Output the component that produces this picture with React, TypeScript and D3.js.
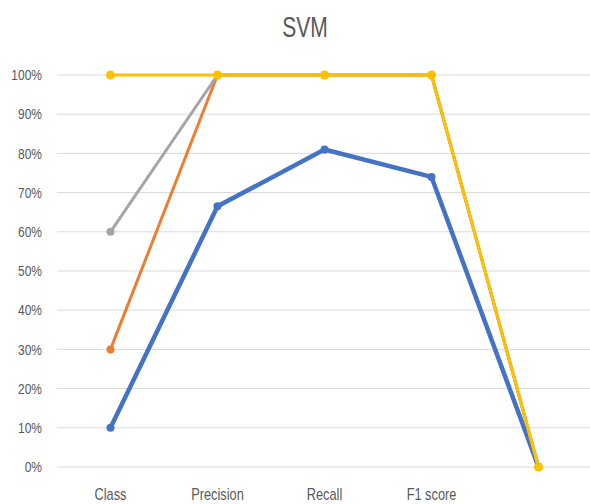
import React from "react";
import * as d3 from "d3";

const categories = ["Class", "Precision", "Recall", "F1 score", ""];
const yTicks = [0, 0.1, 0.2, 0.3, 0.4, 0.5, 0.6, 0.7, 0.8, 0.9, 1.0];
const blueValues = [0.10, 0.665, 0.81, 0.74, 0];
const orangeValues = [0.30, 1.0, 1.0, 1.0, 0];
const grayValues = [0.60, 1.0, 1.0, 1.0, 0];
const yellowValues = [1.0, 1.0, 1.0, 1.0, 0];

const seriesList = [
  { name: "blue", values: blueValues, color: "#4472C4", width: 4.5, r: 4 },
  { name: "orange", values: orangeValues, color: "#ED7D31", width: 3, r: 4 },
  { name: "gray", values: grayValues, color: "#A5A5A5", width: 3, r: 4 },
  { name: "yellow", values: yellowValues, color: "#FFC000", width: 3, r: 4.5 },
];

const W = 590;
const H = 504;
const FONT = "'Liberation Sans', Arial, sans-serif";

export default function App() {
  const x = d3.scaleBand<string>().domain(categories.map((c, i) => String(i))).range([57, 592]);
  const y = d3.scaleLinear().domain([0, 1]).range([467, 75]);
  const cx = (i: number) => (x(String(i)) as number) + x.bandwidth() / 2;
  const line = d3
    .line<number>()
    .x((_, i) => cx(i))
    .y((d) => y(d));

  return (
    <svg
      width={W}
      height={H}
      style={{ position: "absolute", left: 0, top: 0, background: "#fff" }}
    >
      <rect x={0} y={0} width={W} height={H} fill="#fff" />
      <text
        transform="translate(305,37) scale(0.7,1)"
        textAnchor="middle"
        fontFamily={FONT}
        fontSize={30}
        fill="#595959"
      >
        SVM
      </text>
      {yTicks.map((t) => (
        <g key={t}>
          <line x1={57} x2={592} y1={y(t)} y2={y(t)} stroke="#d9d9d9" strokeWidth={1} />
          <text
            transform={`translate(42,${y(t)}) scale(0.8,1)`}
            dy="0.35em"
            textAnchor="end"
            fontFamily={FONT}
            fontSize={15}
            fill="#595959"
          >
            {d3.format(".0%")(t)}
          </text>
        </g>
      ))}
      {categories.map((c, i) => (
        <text
          key={i}
          transform={`translate(${cx(i)},500) scale(0.8,1)`}
          textAnchor="middle"
          fontFamily={FONT}
          fontSize={16}
          fill="#595959"
        >
          {c}
        </text>
      ))}
      {seriesList.map((s) => (
        <g key={s.name}>
          <path
            d={line(s.values) || ""}
            fill="none"
            stroke={s.color}
            strokeWidth={s.width}
            strokeLinejoin="round"
            strokeLinecap="round"
          />
          {s.values.map((v, i) => (
            <circle key={i} cx={cx(i)} cy={y(v)} r={s.r} fill={s.color} />
          ))}
        </g>
      ))}
    </svg>
  );
}
